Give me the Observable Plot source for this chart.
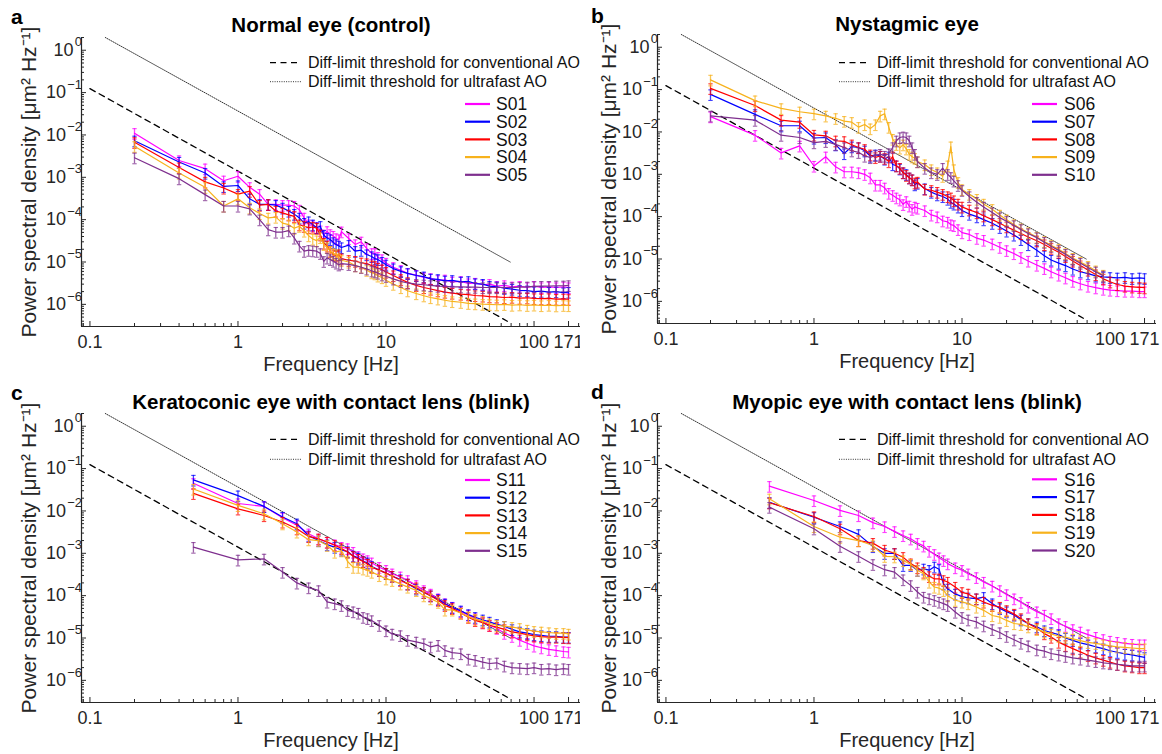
<!DOCTYPE html>
<html><head><meta charset="utf-8">
<script src="https://cdn.jsdelivr.net/npm/d3@7"></script>
<script src="https://cdn.jsdelivr.net/npm/@observablehq/plot@0.6"></script>
<style>
body{margin:0;background:#fff;font-family:"Liberation Sans",Arial,sans-serif;}
#root{position:relative;width:1162px;height:754px;overflow:hidden;background:#fff}
.panel{position:absolute;overflow:hidden}
.panel svg{position:absolute;left:0;top:0;max-width:none !important}
</style></head><body><div id="root"></div>
<script>
// ---------------- data ----------------
const X_DOMAIN = [0.0877, 206];
const Y_DOMAIN = [3.0e-7, 2.0];
const X_TICKS = [0.1, 1, 10, 100, 171];
const Y_TICKS = [1e-6, 1e-5, 1e-4, 1e-3, 1e-2, 1e-1, 1];
const X_LABEL = "Frequency [Hz]";
const Y_LABEL = "Power spectral density [μm² Hz⁻¹]";
const COLORS = ["#FF00FF", "#0000FF", "#FF0000", "#F7B21C", "#7E2F8E"];
const THRESH_LABELS = ["Diff-limit threshold for conventional AO", "Diff-limit threshold for ultrafast AO"];
const CONV_F = [0.1, 66];   const CONV_P = [0.124, 4.0e-7];
const FAST_F = [0.127, 69]; const FAST_P = [2.0, 1.0e-5];
const REL_ERR = 0.28;

const FREQ_AB = [0.2,0.4,0.6,0.8,1.0,1.2,1.4,1.6,1.8,2.0,2.2,2.4,2.6,2.8,3.0,3.2,3.4,3.6,3.8,4.0,4.2,4.4,4.6,4.8,5.0,
  5.6,6.2,6.8,7.4,8.0,8.4,8.8,9.4,10,11.2,12.6,14,16,18,20,22.4,25,28,32,36,40,45,50,56,63,71,80,90,100,112,126,141,158,171];
const FREQ_CD = [0.5,1,1.5,2,2.5,3,3.5,4,4.5,5,
  5.5,6,6.5,7,7.5,8,9,10,11,12.5,14,16,18,20,22.5,25,28,32,36,40,45,50,56,63,71,80,90,100,112,126,141,158,171];

// panel a
const S01 = [1.1e-2,2.5e-3,1.6e-3,8.3e-4,1.06e-3,5.8e-4,4.0e-4,2.3e-4,2.3e-4,2.2e-4,2.2e-4,2.1e-4,1.7e-4,1.1e-4,7.6e-5,7.3e-5,6.6e-5,5.5e-5,4.4e-5,5.3e-5,4.5e-5,4.1e-5,3.6e-5,3.4e-5,5.2e-5,
  3.6e-5,2.6e-5,3.0e-5,2.1e-5,1.6e-5,1.6e-5,1.3e-5,1.15e-5,9.5e-6,7.5e-6,6.4e-6,5.4e-6,4.9e-6,4.3e-6,4.1e-6,3.7e-6,3.8e-6,3.4e-6,3.5e-6,3.1e-6,3.2e-6,2.9e-6,3.0e-6,2.7e-6,2.8e-6,2.6e-6,2.7e-6,2.5e-6,2.7e-6,2.5e-6,2.6e-6,2.5e-6,2.6e-6,2.5e-6];
const S02 = [7.3e-3,2.3e-3,1.26e-3,6.1e-4,6.4e-4,3.1e-4,2.3e-4,2.3e-4,2.2e-4,1.9e-4,1.6e-4,1.35e-4,1.1e-4,8.3e-5,9.0e-5,7.6e-5,6.5e-5,7.0e-5,4.3e-5,3.7e-5,3.4e-5,2.9e-5,2.6e-5,2.4e-5,2.2e-5,
  2.5e-5,1.8e-5,1.9e-5,1.5e-5,1.35e-5,1.2e-5,1.15e-5,1.0e-5,8.6e-6,7.0e-6,6.0e-6,5.4e-6,4.8e-6,4.5e-6,4.0e-6,3.9e-6,3.6e-6,3.7e-6,3.4e-6,3.5e-6,3.1e-6,3.0e-6,2.7e-6,2.6e-6,2.4e-6,2.3e-6,2.15e-6,2.1e-6,2.0e-6,2.05e-6,1.95e-6,2.0e-6,1.9e-6,1.95e-6];
const S03 = [6.7e-3,1.7e-3,7.8e-4,5.6e-4,4.0e-4,4.7e-4,2.2e-4,2.3e-4,1.6e-4,1.45e-4,1.3e-4,1.2e-4,7.6e-5,7.0e-5,6.5e-5,6.7e-5,6.3e-5,4.4e-5,2.8e-5,2.4e-5,1.8e-5,1.5e-5,1.4e-5,1.5e-5,1.2e-5,
  1.1e-5,1.05e-5,9.6e-6,9.2e-6,8.2e-6,7.9e-6,7.2e-6,6.6e-6,5.8e-6,4.8e-6,3.9e-6,3.3e-6,2.8e-6,2.5e-6,2.3e-6,2.1e-6,1.95e-6,1.85e-6,1.75e-6,1.7e-6,1.62e-6,1.58e-6,1.52e-6,1.5e-6,1.45e-6,1.48e-6,1.4e-6,1.43e-6,1.38e-6,1.36e-6,1.38e-6,1.33e-6,1.35e-6,1.32e-6];
const S04 = [5.4e-3,1.26e-3,5.8e-4,2.1e-4,3.1e-4,1.9e-4,1.4e-4,1.1e-4,1.15e-4,8.3e-5,7.6e-5,6.3e-5,7.0e-5,5.4e-5,4.2e-5,3.5e-5,3.2e-5,3.8e-5,2.6e-5,2.2e-5,1.8e-5,1.6e-5,1.5e-5,1.2e-5,1.1e-5,
  1.0e-5,8.2e-6,7.6e-6,6.4e-6,5.6e-6,5.3e-6,4.7e-6,4.3e-6,3.7e-6,3.0e-6,2.5e-6,2.1e-6,1.8e-6,1.6e-6,1.45e-6,1.35e-6,1.25e-6,1.17e-6,1.12e-6,1.06e-6,1.04e-6,1.01e-6,1.0e-6,9.8e-7,1.0e-6,9.6e-7,9.8e-7,9.5e-7,9.7e-7,9.4e-7,9.6e-7,9.3e-7,9.5e-7,9.4e-7];
const S05 = [2.9e-3,9.3e-4,3.9e-4,2.1e-4,2.1e-4,1.8e-4,1.0e-4,5.8e-5,5.1e-5,5.1e-5,5.5e-5,3.7e-5,2.4e-5,1.8e-5,1.9e-5,1.85e-5,1.8e-5,1.6e-5,1.04e-5,1.25e-5,1.15e-5,1.05e-5,9.5e-6,8.6e-6,9.2e-6,
  8.8e-6,8.2e-6,7.5e-6,6.9e-6,6.2e-6,5.9e-6,5.5e-6,5.0e-6,4.6e-6,4.0e-6,3.5e-6,3.2e-6,3.0e-6,2.9e-6,2.8e-6,2.7e-6,2.65e-6,2.6e-6,2.6e-6,2.55e-6,2.55e-6,2.5e-6,2.5e-6,2.5e-6,2.5e-6,2.5e-6,2.55e-6,2.6e-6,2.65e-6,2.7e-6,2.7e-6,2.75e-6,2.75e-6,2.8e-6];
// panel b
const S06 = [2.3e-2,8.4e-3,3.2e-3,4.7e-3,1.57e-3,2.6e-3,1.5e-3,1.15e-3,1.15e-3,1.1e-3,1.0e-3,8.3e-4,5.6e-4,5.6e-4,4.8e-4,3.6e-4,3.2e-4,2.8e-4,2.5e-4,1.95e-4,2.3e-4,1.8e-4,1.5e-4,1.7e-4,1.6e-4,
  1.4e-4,1.1e-4,1.0e-4,8.0e-5,7.5e-5,6.5e-5,6.2e-5,5.0e-5,4.2e-5,3.8e-5,3.1e-5,2.8e-5,2.3e-5,1.9e-5,1.6e-5,1.35e-5,1.1e-5,9.0e-6,7.2e-6,6.0e-6,5.0e-6,4.2e-6,3.6e-6,3.0e-6,2.6e-6,2.3e-6,2.1e-6,1.95e-6,1.85e-6,1.8e-6,1.75e-6,1.75e-6,1.7e-6,1.7e-6];
const S07 = [7.7e-2,2.6e-2,1.4e-2,1.4e-2,7.2e-3,7.4e-3,5.0e-3,3.1e-3,4.5e-3,4.3e-3,3.6e-3,2.7e-3,2.9e-3,2.7e-3,2.3e-3,2.6e-3,1.7e-3,1.6e-3,1.35e-3,1.1e-3,1.0e-3,8.3e-4,7.5e-4,5.7e-4,6.2e-4,
  4.6e-4,3.8e-4,3.3e-4,3.0e-4,2.6e-4,2.2e-4,2.0e-4,1.7e-4,1.4e-4,1.15e-4,1.0e-4,8.5e-5,7.0e-5,5.6e-5,4.6e-5,3.7e-5,2.9e-5,2.2e-5,1.6e-5,1.2e-5,9.5e-6,8.0e-6,7.0e-6,5.8e-6,5.0e-6,4.5e-6,4.0e-6,3.8e-6,3.7e-6,3.6e-6,3.7e-6,3.5e-6,3.6e-6,3.5e-6];
const S08 = [1.07e-1,4.2e-2,1.9e-2,1.7e-2,8.5e-3,8.1e-3,6.2e-3,6.0e-3,5.0e-3,4.3e-3,3.9e-3,2.9e-3,2.5e-3,2.7e-3,2.4e-3,2.0e-3,2.6e-3,1.6e-3,1.4e-3,1.1e-3,9.5e-4,8.3e-4,7.5e-4,6.3e-4,6.6e-4,
  4.5e-4,4.2e-4,3.8e-4,3.4e-4,3.0e-4,2.8e-4,2.4e-4,2.0e-4,1.7e-4,1.45e-4,1.25e-4,1.05e-4,8.5e-5,7.0e-5,5.8e-5,4.8e-5,4.0e-5,3.3e-5,2.7e-5,2.2e-5,1.8e-5,1.45e-5,1.15e-5,9.0e-6,7.0e-6,5.5e-6,4.3e-6,3.4e-6,2.9e-6,2.5e-6,2.3e-6,2.2e-6,2.15e-6,2.1e-6];
const S09 = [1.7e-1,5.5e-2,3.6e-2,3.0e-2,2.7e-2,2.4e-2,2.1e-2,1.8e-2,1.7e-2,1.3e-2,1.5e-2,1.2e-2,1.5e-2,2.4e-2,2.7e-2,1.3e-2,6.8e-3,5.1e-3,4.2e-3,5.0e-3,4.0e-3,3.0e-3,2.6e-3,2.4e-3,2.0e-3,
  1.7e-3,1.3e-3,1.1e-3,9.0e-4,1.6e-3,4.5e-3,1.3e-3,6.5e-4,4.4e-4,3.4e-4,2.6e-4,2.0e-4,1.5e-4,1.1e-4,8.5e-5,6.5e-5,5.2e-5,4.2e-5,3.3e-5,2.6e-5,2.1e-5,1.7e-5,1.35e-5,1.05e-5,8.5e-6,6.8e-6,5.3e-6,4.2e-6,null,null,null,null,null,null];
const S10 = [2.4e-2,1.9e-2,8.4e-3,7.4e-3,5.6e-3,6.0e-3,5.1e-3,4.3e-3,3.6e-3,3.3e-3,2.7e-3,2.5e-3,2.8e-3,3.0e-3,2.7e-3,3.1e-3,4.3e-3,6.2e-3,7.4e-3,7.7e-3,7.4e-3,6.2e-3,4.3e-3,3.0e-3,2.0e-3,
  1.4e-3,1.1e-3,1.0e-3,1.4e-3,1.0e-3,8.5e-4,7.0e-4,5.5e-4,4.2e-4,3.0e-4,2.2e-4,1.7e-4,1.25e-4,9.5e-5,7.8e-5,6.2e-5,5.0e-5,4.0e-5,3.2e-5,2.5e-5,2.0e-5,1.6e-5,1.3e-5,1.0e-5,8.0e-6,6.3e-6,5.0e-6,4.0e-6,null,null,null,null,null,null];
// panel c
const S11 = [4.5e-2,1.5e-2,1.28e-2,6.9e-3,4.6e-3,2.9e-3,2.2e-3,1.84e-3,1.6e-3,1.4e-3,
  1.3e-3,1.07e-3,8.5e-4,7.5e-4,6.8e-4,6.0e-4,4.7e-4,4.0e-4,3.3e-4,2.8e-4,2.3e-4,1.75e-4,1.33e-4,1.1e-4,8.5e-5,6.5e-5,5.4e-5,4.2e-5,3.5e-5,2.9e-5,2.4e-5,2.0e-5,1.7e-5,1.3e-5,1.1e-5,8.9e-6,7.5e-6,6.5e-6,5.9e-6,5.4e-6,5.1e-6,4.8e-6,4.7e-6];
const S12 = [5.4e-2,2.3e-2,1.28e-2,7.2e-3,5.0e-3,2.6e-3,2.0e-3,1.6e-3,1.4e-3,1.2e-3,
  1.1e-3,8.7e-4,7.8e-4,6.5e-4,6.0e-4,4.9e-4,4.0e-4,3.4e-4,2.9e-4,2.4e-4,1.9e-4,1.45e-4,1.2e-4,1.0e-4,8.2e-5,6.4e-5,5.3e-5,4.4e-5,3.6e-5,3.1e-5,2.7e-5,2.4e-5,2.1e-5,1.9e-5,1.6e-5,1.4e-5,1.3e-5,1.2e-5,1.15e-5,1.1e-5,1.1e-5,1.05e-5,1.05e-5];
const S13 = [2.6e-2,1.12e-2,7.8e-3,5.5e-3,3.8e-3,2.5e-3,2.2e-3,1.85e-3,1.55e-3,1.3e-3,
  1.07e-3,8.5e-4,7.3e-4,6.4e-4,5.6e-4,4.7e-4,4.0e-4,3.4e-4,2.9e-4,2.3e-4,1.9e-4,1.55e-4,1.2e-4,1.0e-4,7.8e-5,5.9e-5,5.0e-5,3.9e-5,3.1e-5,2.6e-5,2.3e-5,2.0e-5,1.8e-5,1.6e-5,1.4e-5,1.3e-5,1.2e-5,1.12e-5,1.08e-5,1.05e-5,1.05e-5,1.03e-5,1.02e-5];
const S14 = [3.3e-2,1.35e-2,8.6e-3,5.0e-3,3.2e-3,2.1e-3,2.0e-3,1.55e-3,1.07e-3,1.15e-3,
  6.4e-4,4.7e-4,4.7e-4,4.3e-4,4.0e-4,3.6e-4,3.0e-4,2.5e-4,2.3e-4,1.9e-4,1.6e-4,1.33e-4,1.0e-4,8.5e-5,7.0e-5,4.6e-5,4.6e-5,3.9e-5,3.2e-5,2.8e-5,2.5e-5,2.2e-5,2.0e-5,1.9e-5,1.8e-5,1.7e-5,1.55e-5,1.45e-5,1.4e-5,1.35e-5,1.3e-5,1.3e-5,1.25e-5];
const S15 = [1.4e-3,7.0e-4,7.4e-4,3.6e-4,2.0e-4,1.55e-4,1.33e-4,7.1e-5,6.5e-5,5.9e-5,
  4.5e-5,4.2e-5,3.9e-5,3.1e-5,2.9e-5,2.6e-5,2.0e-5,1.5e-5,1.25e-5,1.15e-5,8.9e-6,8.1e-6,7.4e-6,6.2e-6,6.8e-6,5.1e-6,4.5e-6,4.3e-6,3.2e-6,3.0e-6,2.7e-6,2.5e-6,2.6e-6,2.2e-6,2.0e-6,1.95e-6,1.9e-6,2.0e-6,1.85e-6,1.9e-6,1.8e-6,1.9e-6,1.85e-6];
// panel d
const S16 = [3.85e-2,1.77e-2,1.03e-2,7.8e-3,5.3e-3,4.3e-3,3.3e-3,2.64e-3,2.2e-3,1.74e-3,
  1.5e-3,1.13e-3,9.5e-4,7.9e-4,6.8e-4,5.7e-4,4.6e-4,4.0e-4,3.3e-4,2.7e-4,2.1e-4,1.7e-4,1.33e-4,1.07e-4,8.5e-5,7.0e-5,5.4e-5,4.2e-5,3.5e-5,2.9e-5,2.2e-5,1.9e-5,1.6e-5,1.4e-5,1.2e-5,1.05e-5,9.3e-6,8.5e-6,8.0e-6,7.5e-6,7.2e-6,7.0e-6,7.0e-6];
const S17 = [1.6e-2,7.1e-3,4.3e-3,2.8e-3,1.45e-3,1.0e-3,1.0e-3,5.2e-4,5.2e-4,4.0e-4,
  4.3e-4,4.0e-4,4.8e-4,4.2e-4,1.9e-4,1.45e-4,1.1e-4,9.5e-5,8.9e-5,8.5e-5,9.2e-5,6.5e-5,5.0e-5,4.2e-5,3.5e-5,2.7e-5,2.2e-5,1.85e-5,1.5e-5,1.35e-5,1.2e-5,1.0e-5,8.8e-6,7.7e-6,7.0e-6,6.2e-6,5.6e-6,5.0e-6,4.6e-6,4.2e-6,4.0e-6,3.7e-6,3.5e-6];
const S18 = [1.56e-2,7.4e-3,3.8e-3,2.0e-3,1.74e-3,1.2e-3,1.0e-3,8.1e-4,5.7e-4,4.6e-4,
  3.6e-4,2.85e-4,2.5e-4,2.5e-4,2.3e-4,2.1e-4,1.6e-4,1.2e-4,1.1e-4,8.5e-5,7.1e-5,5.9e-5,5.4e-5,4.5e-5,3.7e-5,2.9e-5,2.2e-5,1.7e-5,1.27e-5,1.05e-5,8.0e-6,6.7e-6,5.6e-6,4.7e-6,3.9e-6,3.4e-6,3.0e-6,2.7e-6,2.4e-6,2.2e-6,2.1e-6,2.0e-6,2.0e-6];
const S19 = [1.94e-2,4.3e-3,2.4e-3,2.0e-3,1.53e-3,8.5e-4,8.3e-4,6.8e-4,5.5e-4,4.0e-4,
  3.3e-4,2.1e-4,1.6e-4,1.5e-4,1.33e-4,1.0e-4,7.8e-5,7.1e-5,6.5e-5,5.4e-5,4.5e-5,3.4e-5,3.1e-5,2.6e-5,2.2e-5,2.1e-5,1.85e-5,1.6e-5,1.4e-5,1.25e-5,1.1e-5,1.04e-5,9.5e-6,8.7e-6,7.9e-6,7.5e-6,7.0e-6,6.5e-6,6.2e-6,6.0e-6,5.8e-6,5.6e-6,5.6e-6];
const S20 = [1.23e-2,3.8e-3,1.46e-3,8.5e-4,5.5e-4,4.1e-4,3.6e-4,2.4e-4,1.75e-4,1.22e-4,
  9.3e-5,8.5e-5,7.8e-5,7.1e-5,6.5e-5,5.9e-5,4.1e-5,3.1e-5,2.7e-5,2.4e-5,1.95e-5,1.6e-5,1.35e-5,1.1e-5,9.1e-6,7.6e-6,6.6e-6,5.3e-6,4.9e-6,4.3e-6,4.0e-6,3.7e-6,3.4e-6,3.2e-6,3.0e-6,2.8e-6,2.6e-6,2.5e-6,2.4e-6,2.3e-6,2.2e-6,2.2e-6,2.2e-6];

const PANELS = [
  {letter: "a", title: "Normal eye (control)", freq: FREQ_AB, names: ["S01","S02","S03","S04","S05"], series: [S01,S02,S03,S04,S05]},
  {letter: "b", title: "Nystagmic eye", freq: FREQ_AB, names: ["S06","S07","S08","S09","S10"], series: [S06,S07,S08,S09,S10]},
  {letter: "c", title: "Keratoconic eye with contact lens (blink)", freq: FREQ_CD, names: ["S11","S12","S13","S14","S15"], series: [S11,S12,S13,S14,S15]},
  {letter: "d", title: "Myopic eye with contact lens (blink)", freq: FREQ_CD, names: ["S16","S17","S18","S19","S20"], series: [S16,S17,S18,S19,S20]}
];

// ---------------- layout ----------------
const FRAME_W = 499, FRAME_H = 289;
const LAYOUT = [
  {left: 0,   top: 0,   w: 580, h: 380, mL: 81, mT: 37, mR: 20, titleDy: -5.5, letterX: 11, letterY: 24,
   lx1: 270, lx2: 301, tx: 308, ty: [62.7, 81.7], sx1: 465, sx2: 490, stx: 496, sy0: 104, sdy: 17.7},
  {left: 580, top: 0,   w: 582, h: 380, mL: 77, mT: 34, mR: 6, titleDy: -4, letterX: 11, letterY: 23,
   lx1: 259, lx2: 290, tx: 297, ty: [62.7, 81.7], sx1: 452, sx2: 477, stx: 484, sy0: 104, sdy: 17.7},
  {left: 0,   top: 380, w: 580, h: 374, mL: 81, mT: 33, mR: 20, titleDy: -4.7, letterX: 11, letterY: 19.5,
   lx1: 270, lx2: 301, tx: 308, ty: [59.3, 79.3], sx1: 465, sx2: 490, stx: 496, sy0: 100, sdy: 17.7},
  {left: 580, top: 380, w: 582, h: 374, mL: 77, mT: 33, mR: 6, titleDy: -4.7, letterX: 11, letterY: 18.5,
   lx1: 259, lx2: 290, tx: 297, ty: [59.3, 79.3], sx1: 452, sx2: 477, stx: 484, sy0: 99.3, sdy: 17.8}
];

const AXIS_COLOR = "#262626";
const FONT = "Liberation Sans, Arial, sans-serif";
const expOf = d => Math.round(Math.log10(d));
const expText = d => String(expOf(d)).replace("-", "\u2212");
const fmtX = d => String(d);

function minorTicks(lo, hi) {
  const out = [];
  for (let k = Math.floor(Math.log10(lo)); k <= Math.ceil(Math.log10(hi)); k++) {
    for (let m = 2; m <= 9; m++) { const v = m * Math.pow(10, k); if (v >= lo && v <= hi) out.push(v); }
  }
  return out;
}
const X_MINOR = minorTicks(X_DOMAIN[0], X_DOMAIN[1]).concat([0.09]).filter(v => v >= X_DOMAIN[0]);
const Y_MINOR = minorTicks(Y_DOMAIN[0], Y_DOMAIN[1]);
const Y_TICKS_ZERO = Y_TICKS.filter(d => expOf(d) === 0);
const Y_TICKS_NEG = Y_TICKS.filter(d => expOf(d) !== 0);

const capSymbol = {draw(ctx, size) { const r = Math.sqrt(size / Math.PI); ctx.moveTo(-r, 0); ctx.lineTo(r, 0); }};

const root = document.getElementById("root");

PANELS.forEach((P, pi) => {
  const L = LAYOUT[pi];
  P.series.forEach((s, i) => { if (s.length !== P.freq.length) throw new Error(P.names[i] + " length " + s.length + " vs " + P.freq.length); });
  const conv = CONV_F.map((f, i) => ({f, p: CONV_P[i]}));
  const fast = FAST_F.map((f, i) => ({f, p: FAST_P[i]}));
  const seriesMarks = [];
  P.series.forEach((vals, si) => {
    const rows = [];
    vals.forEach((v, i) => { if (v != null) rows.push({f: P.freq[i], p: v, lo: v * (1 - REL_ERR), hi: v * (1 + REL_ERR)}); });
    const c = COLORS[si];
    seriesMarks.push(
      Plot.ruleX(rows, {x: "f", y1: "lo", y2: "hi", stroke: c, strokeWidth: 1.3, strokeOpacity: 0.75}),
      Plot.dot(rows, {x: "f", y: "lo", symbol: capSymbol, r: 2.2, stroke: c, fill: "none", strokeWidth: 1.1, strokeOpacity: 0.75}),
      Plot.dot(rows, {x: "f", y: "hi", symbol: capSymbol, r: 2.2, stroke: c, fill: "none", strokeWidth: 1.1, strokeOpacity: 0.75}),
      Plot.line(rows, {x: "f", y: "p", stroke: c, strokeWidth: 1.2})
    );
  });
  const H = L.h;
  const chart = Plot.plot({
    width: L.mL + FRAME_W + L.mR,
    height: H,
    marginLeft: L.mL, marginRight: L.mR, marginTop: L.mT, marginBottom: H - L.mT - FRAME_H,
    x: {type: "log", domain: X_DOMAIN, axis: null},
    y: {type: "log", domain: Y_DOMAIN, axis: null},
    style: {fontFamily: FONT, background: "transparent", overflow: "visible", maxWidth: "none"},
    marks: [
      Plot.line(conv, {x: "f", y: "p", stroke: "#000", strokeWidth: 1.3, strokeDasharray: "6,4.5"}),
      Plot.line(fast, {x: "f", y: "p", stroke: "#333", strokeWidth: 1, strokeDasharray: "1,1.3"}),
      ...seriesMarks,
      // axes
      Plot.ruleY([Y_DOMAIN[0]], {stroke: AXIS_COLOR, strokeWidth: 1.2}),
      Plot.ruleX([X_DOMAIN[0]], {stroke: AXIS_COLOR, strokeWidth: 1.2}),
      Plot.tickX(X_TICKS, {x: d => d, insetTop: FRAME_H - 5, stroke: AXIS_COLOR}),
      Plot.tickX(X_MINOR, {x: d => d, insetTop: FRAME_H - 3, stroke: AXIS_COLOR}),
      Plot.tickY(Y_TICKS, {y: d => d, insetRight: FRAME_W - 5, stroke: AXIS_COLOR}),
      Plot.tickY(Y_MINOR, {y: d => d, insetRight: FRAME_W - 3, stroke: AXIS_COLOR}),
      Plot.text(X_TICKS, {x: d => d, text: fmtX, frameAnchor: "bottom", dy: 21, lineAnchor: "bottom", fontSize: 18, fill: AXIS_COLOR}),
      Plot.text(Y_TICKS_ZERO, {y: d => d, text: () => "10", frameAnchor: "left", dx: -8, textAnchor: "end", lineAnchor: "middle", fontSize: 18, fill: AXIS_COLOR}),
      Plot.text(Y_TICKS_NEG, {y: d => d, text: () => "10", frameAnchor: "left", dx: -15.5, textAnchor: "end", lineAnchor: "middle", fontSize: 18, fill: AXIS_COLOR}),
      Plot.text(Y_TICKS, {y: d => d, text: expText, frameAnchor: "left", dx: 0.5, dy: -8, textAnchor: "end", lineAnchor: "middle", fontSize: 13, fill: AXIS_COLOR}),
      Plot.text([X_LABEL], {text: d => d, frameAnchor: "bottom", dy: 44, textAnchor: "middle", lineAnchor: "bottom", fontSize: 20, fill: AXIS_COLOR}),
      Plot.text([Y_LABEL], {text: d => d, frameAnchor: "left", dx: -(L.mL - 29), textAnchor: "middle", rotate: -90, lineAnchor: "middle", fontSize: 21, fill: AXIS_COLOR}),
      Plot.text([P.title], {text: d => d, frameAnchor: "top", dy: L.titleDy, textAnchor: "middle", lineAnchor: "bottom", fontSize: 20.5, fontWeight: "bold", fill: "#000"})
    ]
  });
  const div = document.createElement("div");
  div.className = "panel";
  div.style.left = L.left + "px"; div.style.top = L.top + "px";
  div.style.width = L.w + "px"; div.style.height = L.h + "px";
  div.appendChild(chart);
  // legend + panel letter overlay
  const ov = d3.create("svg").attr("width", L.w).attr("height", L.h).style("font-family", FONT);
  ov.append("text").attr("x", L.letterX).attr("y", L.letterY).attr("font-size", 21).attr("font-weight", "bold").text(P.letter);
  const dashes = ["6,4.5", "1,1.3"];
  THRESH_LABELS.forEach((t, i) => {
    ov.append("line").attr("x1", L.lx1).attr("x2", L.lx2).attr("y1", L.ty[i]).attr("y2", L.ty[i])
      .attr("stroke", i ? "#333" : "#000").attr("stroke-width", i ? 1 : 1.3).attr("stroke-dasharray", dashes[i]);
    ov.append("text").attr("x", L.tx).attr("y", L.ty[i]).attr("dy", "0.35em").attr("font-size", 16).attr("fill", "#111").text(t);
  });
  P.names.forEach((n, i) => {
    const y = L.sy0 + i * L.sdy;
    ov.append("line").attr("x1", L.sx1).attr("x2", L.sx2).attr("y1", y).attr("y2", y).attr("stroke", COLORS[i]).attr("stroke-width", 2.2);
    ov.append("text").attr("x", L.stx).attr("y", y).attr("dy", "0.36em").attr("font-size", 17.5).attr("fill", "#111").text(n);
  });
  div.appendChild(ov.node());
  root.appendChild(div);
});
</script></body></html>
